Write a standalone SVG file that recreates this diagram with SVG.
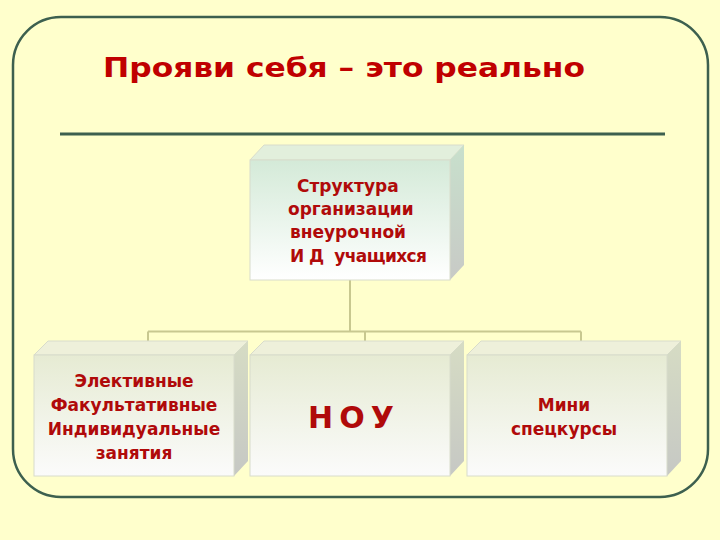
<svg xmlns="http://www.w3.org/2000/svg" width="720" height="540" viewBox="0 0 720 540">
<defs>
<linearGradient id="gTop" x1="0" y1="0" x2="0" y2="1">
<stop offset="0" stop-color="#d4ead8"/>
<stop offset="1" stop-color="#ffffff"/>
</linearGradient>
<linearGradient id="gBot" x1="0" y1="0" x2="0" y2="1">
<stop offset="0" stop-color="#e6ebd3"/>
<stop offset="1" stop-color="#fbfbfb"/>
</linearGradient>
<linearGradient id="gSide" x1="0" y1="0" x2="0" y2="1">
<stop offset="0" stop-color="#d6dcc4"/>
<stop offset="1" stop-color="#c6c8c4"/>
</linearGradient>
<linearGradient id="gSideTop" x1="0" y1="0" x2="0" y2="1">
<stop offset="0" stop-color="#c8e0cc"/>
<stop offset="1" stop-color="#c8cac6"/>
</linearGradient>
<style>
.t{font-family:"DejaVu Sans","Liberation Sans",Arial,sans-serif;font-weight:bold;fill:#b00a0a;font-size:17px}
.c{text-anchor:middle}
.face{stroke:#d8dccb;stroke-width:1}
.tf{fill:#eef0da}
.conn{fill:none;stroke:#c8c890;stroke-width:2}
</style>
</defs>
<rect width="720" height="540" fill="#ffffcc"/>
<rect x="13" y="17" width="695" height="480" rx="48" ry="48" fill="none" stroke="#3d604f" stroke-width="2.5"/>
<text x="103" y="77" font-family="DejaVu Sans, Liberation Sans, Arial, sans-serif" font-weight="bold" font-size="27" fill="#c00000" textLength="482" lengthAdjust="spacingAndGlyphs">Прояви себя – это реально</text>
<line x1="60" y1="134" x2="665" y2="134" stroke="#3d604f" stroke-width="3"/>
<g id="connectors">
<path class="conn" d="M350 280 V331.5 M148 331.5 H581 M148 331.5 V341 M365 331.5 V341 M581 331.5 V341"/>
</g>
<g id="n0">
<polygon points="250,160 264,145 464,145 450,160" fill="#e2efdc" class="face"/>
<polygon points="450,160 464,145 464,265 450,280" fill="url(#gSideTop)"/>
<rect x="250" y="160" width="200" height="120" fill="url(#gTop)" class="face"/>
<text class="t" x="297" y="192">Структура</text>
<text class="t" x="288" y="215">организации</text>
<text class="t" x="290" y="238">внеурочной</text>
<text class="t" x="290" y="262" xml:space="preserve" textLength="137">И Д  учащихся</text>
</g>
<g id="n1">
<polygon points="34,355 48,341 248,341 234,355" class="face tf"/>
<polygon points="234,355 248,341 248,461 234,476" fill="url(#gSide)"/>
<rect x="34" y="355" width="200" height="121" fill="url(#gBot)" class="face"/>
<text class="t c" x="134" y="387">Элективные</text>
<text class="t c" x="134" y="411">Факультативные</text>
<text class="t c" x="134" y="435">Индивидуальные</text>
<text class="t c" x="134" y="459">занятия</text>
</g>
<g id="n2">
<polygon points="250,355 264,341 464,341 450,355" class="face tf"/>
<polygon points="450,355 464,341 464,461 450,476" fill="url(#gSide)"/>
<rect x="250" y="355" width="200" height="121" fill="url(#gBot)" class="face"/>
<text class="t" x="308" y="428" style="font-size:30px" textLength="86">Н О У</text>
</g>
<g id="n3">
<polygon points="467,355 481,341 681,341 667,355" class="face tf"/>
<polygon points="667,355 681,341 681,461 667,476" fill="url(#gSide)"/>
<rect x="467" y="355" width="200" height="121" fill="url(#gBot)" class="face"/>
<text class="t c" x="564" y="411">Мини</text>
<text class="t c" x="564" y="435">спецкурсы</text>
</g>
</svg>
